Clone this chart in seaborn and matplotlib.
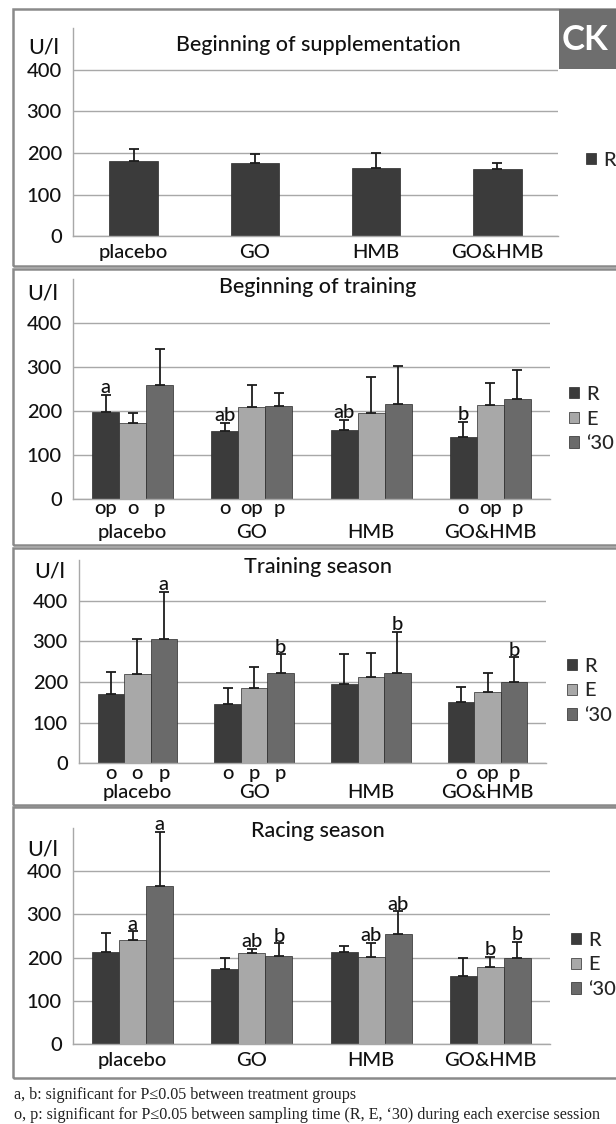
import matplotlib
matplotlib.use("Agg")
import numpy as np
import pandas as pd
import matplotlib.pyplot as plt
import seaborn as sns
from matplotlib.patches import Rectangle

# ---------------------------------------------------------------- data
groups = ["placebo", "GO", "HMB", "GO&HMB"]
times = ["R", "E", "\u201830"]

# Beginning of supplementation (resting sample only)
supp_R = [180, 175, 165, 161]
supp_R_sd = [29, 22, 35, 15]

# Beginning of training
btr_R = [197, 155, 157, 142]
btr_E = [173, 208, 195, 214]
btr_30 = [258, 212, 217, 228]
btr_R_sd = [40, 18, 23, 34]
btr_E_sd = [22, 51, 83, 50]
btr_30_sd = [84, 28, 85, 65]
btr_top_R = ["a", "ab", "ab", "b"]
btr_low_R = ["op", "o", "", "o"]
btr_low_E = ["o", "op", "", "op"]
btr_low_30 = ["p", "p", "", "p"]

# Training season
trs_R = [170, 145, 195, 151]
trs_E = [220, 184, 212, 175]
trs_30 = [306, 223, 223, 200]
trs_R_sd = [55, 39, 75, 37]
trs_E_sd = [86, 52, 60, 48]
trs_30_sd = [115, 45, 100, 61]
trs_top_30 = ["a", "b", "b", "b"]
trs_low_R = ["o", "o", "", "o"]
trs_low_E = ["o", "p", "", "op"]
trs_low_30 = ["p", "p", "", "p"]

# Racing season
rac_R = [212, 173, 212, 158]
rac_E = [240, 210, 202, 179]
rac_30 = [365, 203, 254, 198]
rac_R_sd = [45, 27, 15, 41]
rac_E_sd = [21, 10, 32, 23]
rac_30_sd = [126, 30, 53, 39]
rac_top_E = ["a", "ab", "ab", "b"]
rac_top_30 = ["a", "b", "ab", "b"]

yticks = [0, 100, 200, 300, 400]
note_ab = "a, b: significant for P\u22640.05 between treatment groups"
note_op = ("o, p: significant for P\u22640.05 between sampling time "
           "(R, E, \u201830) during each exercise session")

# ---------------------------------------------------------------- style
sns.set_style("white")
plt.rcParams["font.family"] = ["Lato", "DejaVu Sans"]
plt.rcParams["font.weight"] = "medium"
FS = 14.5
TITLE_FS = 15.5
INK = "#111111"
palette = {"R": "#3b3b3b", "E": "#a8a8a8", "\u201830": "#6a6a6a"}
GRID = "#a8a8a8"

W, H = 616, 1124
fig = plt.figure(figsize=(W / 100, H / 100), dpi=100)


def px_axes(x0, y0, x1, y1):
    return fig.add_axes([x0 / W, 1 - y1 / H, (x1 - x0) / W, (y1 - y0) / H])


def fig_xy(x, y):
    return x / W, 1 - y / H


def long_frame(series):
    rows = []
    for t, (vals, sds) in series.items():
        for g, v, s in zip(groups, vals, sds):
            rows.append({"group": g, "time": t, "value": v, "sd": s})
    return pd.DataFrame(rows)


def draw_panel(box, axbox, title, title_y, unit_xy, series, width,
               label_pad, top_marks, low_marks, legend_xy):
    y0, y1 = box
    fig.patches.append(Rectangle(fig_xy(13, y1), 700 / W, (y1 - y0) / H,
                                 transform=fig.transFigure, fill=False,
                                 edgecolor="#8a8a8a", lw=1.8, zorder=0))
    ax = px_axes(*axbox)
    df = long_frame(series)
    levels = list(series.keys())
    sns.barplot(data=df, x="group", y="value", hue="time", order=groups,
                hue_order=levels, palette=palette, width=width,
                errorbar=None, saturation=1, edgecolor="#2a2a2a",
                linewidth=0.5, ax=ax, zorder=2)
    for cont, t in zip(ax.containers, levels):
        sub = df[df["time"] == t].set_index("group").loc[groups]
        xs = [b.get_x() + b.get_width() / 2 for b in cont]
        tops = [b.get_height() for b in cont]
        ax.errorbar(xs, tops, yerr=[np.zeros(len(xs)), sub["sd"].values],
                    fmt="none", ecolor="#1c1c1c", elinewidth=1.3,
                    capsize=3.3, capthick=1.3, zorder=3)
        for x, top, sd, lab in zip(xs, tops, sub["sd"].values,
                                   top_marks.get(t, [""] * 4)):
            if lab:
                ax.annotate(lab, (x, top + sd), xytext=(0, 1.2),
                            textcoords="offset points", ha="center",
                            va="baseline", fontsize=FS, color=INK,
                            annotation_clip=False)
        for x, lab in zip(xs, low_marks.get(t, [""] * 4)):
            if lab:
                ax.annotate(lab, (x, 0), xytext=(0, -7),
                            textcoords="offset points", ha="center",
                            va="center", fontsize=FS, color=INK,
                            annotation_clip=False)
    ax.set_ylim(0, 500)
    ax.set_xlim(-0.5, 3.5)
    ax.set_yticks(yticks)
    ax.set_yticklabels([str(v) for v in yticks], fontsize=FS, color=INK)
    ax.set_xticks(range(4))
    ax.set_xticklabels(groups, fontsize=FS, color=INK)
    ax.set_xticks([-0.5, 0.5, 1.5, 2.5, 3.5], minor=True)
    ax.tick_params(axis="x", which="major", length=0, pad=label_pad)
    ax.tick_params(axis="x", which="minor", length=4, color=GRID, width=1)
    ax.tick_params(axis="y", length=4, color=GRID, width=1, pad=4)
    ax.set_xlabel("")
    ax.set_ylabel("")
    ax.yaxis.grid(True, color=GRID, lw=1)
    ax.set_axisbelow(True)
    for s in ("top", "right"):
        ax.spines[s].set_visible(False)
    for s in ("left", "bottom"):
        ax.spines[s].set_color(GRID)
        ax.spines[s].set_linewidth(1)
    handles, labels = ax.get_legend_handles_labels()
    ax.get_legend().remove()
    fig.legend(handles, labels, loc="center left",
               bbox_to_anchor=fig_xy(*legend_xy), frameon=False,
               fontsize=FS, handlelength=0.5, handleheight=0.5,
               handletextpad=0.35, labelspacing=0.38, borderpad=0,
               borderaxespad=0)
    fig.text(*fig_xy(318, title_y), title, ha="center", va="center",
             fontsize=TITLE_FS, color=INK)
    fig.text(*fig_xy(*unit_xy), "U/l", ha="center", va="center",
             fontsize=TITLE_FS, color=INK)
    return ax


draw_panel((9, 266), (73, 28.5, 558, 236), "Beginning of supplementation", 45,
           (44, 47), {"R": (supp_R, supp_R_sd)}, 0.4, 6, {}, {}, (586, 160))

draw_panel((269, 545), (73, 279, 550, 499), "Beginning of training", 287,
           (43, 294),
           {"R": (btr_R, btr_R_sd), "E": (btr_E, btr_E_sd),
            "\u201830": (btr_30, btr_30_sd)},
           0.68, 18, {"R": btr_top_R},
           {"R": btr_low_R, "E": btr_low_E, "\u201830": btr_low_30},
           (569, 419))

draw_panel((548, 805), (79, 560, 546, 763.3), "Training season", 567,
           (50, 571),
           {"R": (trs_R, trs_R_sd), "E": (trs_E, trs_E_sd),
            "\u201830": (trs_30, trs_30_sd)},
           0.68, 15, {"\u201830": trs_top_30},
           {"R": trs_low_R, "E": trs_low_E, "\u201830": trs_low_30},
           (567, 691))

draw_panel((807, 1078), (73, 828, 550, 1044), "Racing season", 831,
           (43, 849),
           {"R": (rac_R, rac_R_sd), "E": (rac_E, rac_E_sd),
            "\u201830": (rac_30, rac_30_sd)},
           0.68, 6, {"E": rac_top_E, "\u201830": rac_top_30}, {},
           (571, 965))

# CK badge in the top right corner
fig.patches.append(Rectangle(fig_xy(559, 69), 80 / W, 60 / H,
                             transform=fig.transFigure, facecolor="#6e6e6e",
                             edgecolor="none", zorder=5))
fig.text(*fig_xy(562, 40), "CK", ha="left", va="center", fontsize=25,
         fontweight="bold", color="white", zorder=6)

# footnotes
fig.text(*fig_xy(14, 1095), note_ab, ha="left", va="center",
         family=["Liberation Serif", "DejaVu Serif"], fontweight="normal",
         fontsize=11.6, color="#222222")
fig.text(*fig_xy(14, 1115), note_op, ha="left", va="center",
         family=["Liberation Serif", "DejaVu Serif"], fontweight="normal",
         fontsize=11.6, color="#222222")

fig.savefig("out.png", dpi=100, facecolor="white")
